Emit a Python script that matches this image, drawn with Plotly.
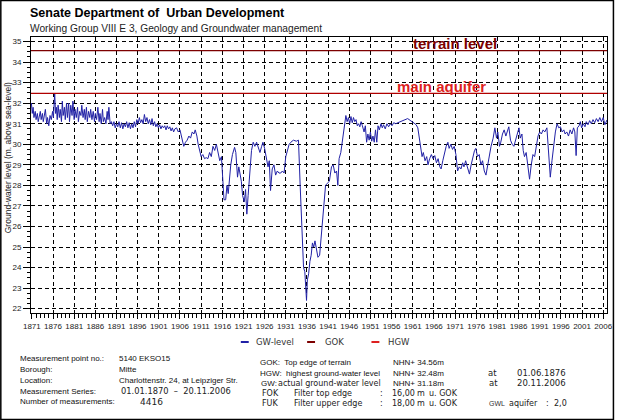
import plotly.graph_objects as go

# ---------------- data ----------------
gw_years = [
    1870.8, 1870.9, 1871.1, 1871.3, 1871.5, 1871.8, 1872.0, 1872.3, 1872.5, 1872.8,
    1873.0, 1873.2, 1873.5, 1873.7, 1874.0, 1874.2, 1874.5, 1874.7, 1875.0, 1875.3,
    1875.6, 1875.9, 1876.1, 1876.4, 1876.6, 1876.8, 1877.0, 1877.2, 1877.5, 1877.7,
    1878.0, 1878.2, 1878.4, 1878.7, 1878.9, 1879.2, 1879.4, 1879.7, 1879.9, 1880.2,
    1880.5, 1880.7, 1881.0, 1881.2, 1881.5, 1881.8, 1882.0, 1882.3, 1882.6, 1882.8,
    1883.1, 1883.4, 1883.6, 1883.9, 1884.1, 1884.4, 1884.7, 1884.9, 1885.2, 1885.5,
    1885.8, 1886.0, 1886.3, 1886.6, 1886.9, 1887.1, 1887.4, 1887.7, 1887.9, 1888.2,
    1888.5, 1888.8, 1889.0, 1889.2, 1889.5, 1889.8, 1890.1, 1890.4, 1890.7, 1891.0,
    1891.3, 1891.6, 1891.9, 1892.2, 1892.5, 1892.8, 1893.1, 1893.4, 1893.7, 1894.0,
    1894.3, 1894.6, 1894.9, 1895.2, 1895.5, 1895.8, 1896.1, 1896.4, 1896.7, 1897.0,
    1897.3, 1897.6, 1897.9, 1898.2, 1898.5, 1898.8, 1899.1, 1899.4, 1899.7, 1900.0,
    1900.3, 1900.6, 1900.9, 1901.2, 1901.5, 1901.8, 1902.1, 1902.4, 1902.7, 1903.0,
    1903.3, 1903.6, 1903.9, 1904.2, 1904.5, 1904.8, 1905.2, 1905.6, 1906.0, 1906.4,
    1906.9, 1907.3, 1907.7, 1908.1, 1908.5, 1908.9, 1909.3, 1909.6, 1910.0, 1910.3,
    1910.7, 1911.0, 1911.4, 1911.8, 1912.2, 1912.6, 1913.0, 1913.4, 1913.8, 1914.2,
    1914.6, 1915.0, 1915.4, 1915.8, 1916.1, 1916.4, 1916.8, 1917.1, 1917.4, 1917.7,
    1918.0, 1918.4, 1918.9, 1919.2, 1919.6, 1919.9, 1920.2, 1920.5, 1920.8, 1921.2,
    1921.5, 1921.8, 1922.1, 1922.5, 1922.9, 1923.3, 1923.7, 1924.1, 1924.5, 1924.9,
    1925.3, 1925.6, 1926.0, 1926.4, 1926.8, 1927.1, 1927.4, 1927.8, 1928.2, 1928.6,
    1929.0, 1929.4, 1929.8, 1930.2, 1930.6, 1931.0, 1931.4, 1931.8, 1932.2, 1932.8,
    1933.5, 1934.0, 1934.4, 1934.9, 1935.2, 1935.5, 1935.9, 1936.1, 1936.4, 1936.7,
    1937.0, 1937.3, 1937.6, 1937.9, 1938.3, 1938.6, 1939.0, 1939.4, 1939.9, 1940.4,
    1940.8, 1941.3, 1941.8, 1942.2, 1942.6, 1943.0, 1943.3, 1943.6, 1944.0, 1944.4,
    1944.8, 1945.2, 1945.5, 1945.8, 1946.1, 1946.4, 1946.7, 1947.0, 1947.3, 1947.6,
    1947.9, 1948.2, 1948.5, 1948.8, 1949.1, 1949.5, 1949.8, 1950.1, 1950.4, 1950.7,
    1951.0, 1951.3, 1951.6, 1951.9, 1952.2, 1952.5, 1952.8, 1953.1, 1953.5, 1953.8,
    1954.1, 1954.5, 1954.9, 1955.3, 1955.7, 1956.1, 1956.5, 1957.0, 1957.5, 1959.8,
    1961.5, 1961.8, 1962.2, 1962.6, 1962.9, 1963.2, 1963.5, 1963.9, 1964.3, 1964.6,
    1965.0, 1965.4, 1965.8, 1966.2, 1966.6, 1967.0, 1967.4, 1967.7, 1968.1, 1968.5,
    1968.9, 1969.3, 1969.6, 1970.0, 1970.4, 1970.8, 1971.2, 1971.6, 1972.0, 1972.4,
    1972.8, 1973.1, 1973.5, 1973.9, 1974.4, 1974.8, 1975.2, 1975.6, 1975.9, 1976.3,
    1976.7, 1977.1, 1977.5, 1977.9, 1978.3, 1978.7, 1979.1, 1979.5, 1980.0, 1980.4,
    1980.8, 1981.1, 1981.5, 1981.8, 1982.2, 1982.6, 1983.0, 1983.3, 1983.7, 1984.1,
    1984.5, 1984.9, 1985.3, 1985.7, 1986.1, 1986.4, 1986.8, 1987.1, 1987.4, 1987.8,
    1988.2, 1988.6, 1989.0, 1989.4, 1989.8, 1990.2, 1990.6, 1991.0, 1991.4, 1991.8,
    1992.2, 1992.7, 1993.1, 1993.5, 1993.9, 1994.3, 1994.7, 1995.1, 1995.5, 1995.9,
    1996.3, 1996.7, 1997.0, 1997.4, 1997.8, 1998.2, 1998.6, 1999.0, 1999.3, 1999.6,
    1999.9, 2000.3, 2000.6, 2000.9, 2001.3, 2001.7, 2002.0, 2002.4, 2002.8, 2003.2,
    2003.6, 2004.0, 2004.4, 2004.8, 2005.2, 2005.6, 2006.0, 2006.4, 2006.89,
]
gw_levels = [
    31.9, 32.0, 31.5, 31.8, 31.3, 31.6, 31.2, 31.5, 31.1, 31.4,
    31.6, 31.2, 31.5, 31.1, 31.4, 31.7, 31.0, 31.3, 30.9, 31.4,
    31.2, 31.6, 31.3, 32.48, 31.5, 31.8, 31.2, 31.9, 31.3, 31.7,
    31.1, 32.1, 31.4, 31.8, 31.2, 32.0, 31.3, 32.0, 31.1, 31.9,
    31.4, 32.1, 31.2, 31.7, 31.3, 31.8, 31.1, 31.6, 31.4, 31.9,
    31.3, 31.7, 31.2, 31.8, 31.1, 31.6, 31.3, 31.7, 31.2, 31.6,
    31.1, 31.5, 31.2, 31.8, 31.1, 31.5, 31.0, 31.7, 31.1, 31.3,
    31.0, 31.6, 31.2, 31.8, 31.0, 31.1, 30.9, 31.1, 30.8, 31.0,
    30.85, 31.1, 30.8, 31.05, 30.75, 31.0, 30.85, 31.1, 30.8, 31.05,
    30.75, 31.0, 30.8, 31.1, 30.85, 31.2, 31.0, 31.3, 31.05, 31.2,
    31.0, 31.45, 31.1, 31.3, 31.0, 31.2, 30.95, 31.25, 30.9, 31.1,
    30.85, 31.0, 30.8, 30.95, 30.75, 30.9, 30.8, 30.9, 30.7, 30.9,
    30.75, 30.85, 30.65, 30.8, 30.6, 30.75, 30.8, 30.6, 30.7, 30.3,
    29.9, 30.1, 30.2, 30.4, 30.3, 30.6, 30.5, 30.7, 30.4, 30.0,
    29.7, 29.4, 29.5, 29.3, 29.35, 29.3, 29.6, 29.4, 29.9, 29.7,
    30.0, 29.6, 29.2, 29.4, 28.5, 27.3, 27.3, 28.0, 27.6, 28.5,
    29.0, 29.5, 29.85, 29.6, 28.4, 28.9, 28.6, 28.2, 27.5, 27.2,
    27.8, 26.6, 27.5, 28.8, 29.7, 30.1, 29.9, 30.1, 29.8, 29.6,
    29.9, 30.1, 29.8, 29.4, 28.9, 29.2, 27.75, 28.8, 29.0, 28.5,
    28.7, 28.6, 28.6, 28.7, 28.6, 29.4, 29.7, 30.0, 30.1, 30.2,
    30.15, 30.2, 28.0, 25.0, 24.0, 23.8, 22.4, 23.4, 23.7, 24.3,
    24.6, 25.2, 25.0, 25.3, 24.9, 24.5, 24.6, 25.5, 27.0, 28.0,
    28.1, 28.2, 28.9, 29.0, 28.6, 28.7, 28.0, 29.3, 29.6, 30.2,
    30.8, 31.4, 31.1, 31.3, 31.0, 31.35, 31.05, 31.3, 31.1, 31.2,
    30.9, 31.0, 30.85, 31.1, 30.9, 30.6, 30.9, 30.1, 30.5, 30.2,
    30.6, 30.15, 30.4, 30.1, 30.7, 30.1, 30.9, 30.7, 31.0, 30.8,
    30.95, 30.75, 31.0, 30.85, 31.0, 30.9, 31.05, 31.0, 31.05, 31.25,
    31.0, 30.95, 30.8, 30.2, 29.8, 29.4, 29.6, 29.2, 29.4, 29.0,
    29.3, 29.5, 29.3, 29.45, 29.1, 29.3, 28.9, 28.8, 29.2, 29.6,
    29.9, 30.1, 29.8, 30.0, 29.75, 29.9, 29.5, 28.7, 28.9, 28.8,
    29.1, 28.9, 29.2, 28.9, 28.55, 29.0, 29.4, 29.7, 29.8, 29.4,
    29.5, 29.0, 29.2, 28.7, 28.5, 29.0, 29.5, 29.9, 30.3, 30.8,
    30.3, 30.6, 29.9, 30.1, 30.5, 30.7, 30.4, 30.6, 30.85, 30.2,
    30.0, 29.9, 30.2, 30.5, 30.8, 30.3, 30.5, 29.7, 29.4, 29.6,
    28.8, 28.3, 29.0, 29.5, 29.4, 30.0, 30.4, 30.6, 30.5, 30.7,
    30.6, 30.8, 29.5, 28.4, 29.2, 30.0, 30.6, 31.0, 30.8, 30.85,
    30.6, 30.7, 30.5, 30.6, 30.4, 30.7, 30.5, 30.8, 30.6, 29.45,
    30.8, 30.9, 31.1, 30.8, 31.0, 30.85, 31.1, 30.95, 31.15, 31.0,
    31.2, 31.05, 31.25, 31.1, 31.3, 31.1, 31.3, 30.95, 31.18,
]
gok_level = 34.56     # terrain level
hgw_level = 32.48     # highest ground-water level (main aquifer)
x_range = [1870.8, 2006.9]
y_range = [21.79, 35.22]
x_tick0, x_dtick = 1871, 5

legend_labels = ["GW-level", "GOK", "HGW"]
info_left = [
    ("Measurement point no.:", "5140 EKSO15"),
    ("Borough:", "Mitte"),
    ("Location:", "Charlottenstr. 24, at Leipziger Str."),
    ("Measurement Series:", "01.01.1870\u00a0 \u2013\u00a0 20.11.2006"),
    ("Number of measurements:", "4416"),
]

BLUE = "#2121a6"
MAROON = "#7d0000"
RED = "#dd2020"

# ---------------- geometry helpers (pixel -> paper) ----------------
W, H = 620, 420
L, R, T, B = 31, 7, 37, 107
PW, PH = W - L - R, H - T - B


def px(x):
    return (x - L) / PW


def py(y):
    return (H - B - y) / PH


fig = go.Figure()
fig.add_trace(go.Scatter(x=gw_years, y=gw_levels, mode="lines",
                         line=dict(color=BLUE, width=1), name="GW-level",
                         showlegend=False, hoverinfo="skip"))
fig.add_trace(go.Scatter(x=x_range, y=[gok_level, gok_level], mode="lines",
                         line=dict(color=MAROON, width=1.3), name="GOK",
                         showlegend=False, hoverinfo="skip"))
fig.add_trace(go.Scatter(x=x_range, y=[hgw_level, hgw_level], mode="lines",
                         line=dict(color="#b00000", width=1.3), name="HGW",
                         showlegend=False, hoverinfo="skip"))

ann = []
shapes = []
SANS = "Liberation Sans"
WIDE = "DejaVu Sans"


def text(x, y, s, size=8, family=SANS, color="#111", anchor="left", bold=False):
    if bold:
        s = "<b>" + s + "</b>"
    ann.append(dict(x=px(x), y=py(y), xref="paper", yref="paper", text=s,
                    showarrow=False, xanchor=anchor, yanchor="middle",
                    font=dict(size=size, family=family, color=color)))


# title
text(28, 13, "Senate Department of\u00a0 Urban Development", size=12.5, bold=True, color="#000")
text(28, 28, "Working Group VIII E 3, Geology and Groundwater management", size=10.2, color="#222")

# line labels (data coordinates)
ann.append(dict(x=1971.0, y=34.88, xref="x", yref="y", text="<b>terrain level</b>",
                showarrow=False, xanchor="center", yanchor="middle",
                font=dict(size=15, family=SANS, color=MAROON)))
ann.append(dict(x=1967.7, y=32.79, xref="x", yref="y", text="<b>main aquifer</b>",
                showarrow=False, xanchor="center", yanchor="middle",
                font=dict(size=15, family=SANS, color=RED)))

# y axis title
ann.append(dict(x=px(8), y=py(158), xref="paper", yref="paper",
                text="Ground-water level (m. above sea-level)", textangle=-90,
                showarrow=False, xanchor="center", yanchor="middle",
                font=dict(size=8.5, family=SANS, color="#222")))

# legend
leg = [(243, 251, 256, BLUE), (310, 318, 326, MAROON), (375, 383, 390, RED)]
for (x0, x1, tx, c), lab in zip(leg, legend_labels):
    shapes.append(dict(type="line", xref="paper", yref="paper", x0=px(x0), x1=px(x1),
                       y0=py(342), y1=py(342), line=dict(color=c, width=2)))
    text(tx, 342, lab, size=8.5, family=WIDE, color="#333")

# left info block
rows_l = [358, 369, 380, 391, 402]
for i, ((lab, val), yy) in enumerate(zip(info_left, rows_l)):
    text(18, yy, lab, size=8)
    if i == 3:
        text(120, yy, val, size=8.3, family=WIDE, color="#222")
    elif i == 4:
        text(139, yy, val, size=9, family=WIDE, color="#222")
    else:
        text(118, yy, val, size=8)

# right info block
rows_r = [362, 373, 383, 393, 403]
text(260, rows_r[0], "GOK:\u00a0 Top edge of terrain", size=8)
text(395, rows_r[0], "NHN+ 34.56m", size=8)
text(260, rows_r[1], "HGW:\u00a0 highest ground-water level", size=8)
text(395, rows_r[1], "NHN+ 32.48m", size=8)
text(491, rows_r[1], "at", size=8.5, family=WIDE, color="#222")
text(520, rows_r[1], "01.06.1876", size=8.5, family=WIDE, color="#222")
text(261, rows_r[2], "GW:", size=8)
text(279, rows_r[2], "actual ground-water level", size=8, family=WIDE, color="#222")
text(395, rows_r[2], "NHN+ 31.18m", size=8)
text(492, rows_r[2], "at", size=8.5, family=WIDE, color="#222")
text(520, rows_r[2], "20.11.2006", size=8.5, family=WIDE, color="#222")
for yy, a, b, v in [(rows_r[3], "FOK", "Filter top edge", "16,00"),
                    (rows_r[4], "FUK", "Filter upper edge", "18,00")]:
    text(262, yy, a, size=8, family=WIDE, color="#222")
    text(295, yy, b, size=8, family=WIDE, color="#222")
    text(382, yy, ":", size=8, family=WIDE, color="#222")
    text(394, yy, v, size=8, family=WIDE, color="#222")
    text(419, yy, "m", size=8, family=WIDE, color="#222")
    text(431, yy, "u. GOK", size=8, family=WIDE, color="#222")
text(492, rows_r[4], "GWL", size=7, family=SANS, color="#333")
text(512, rows_r[4], "aquifer", size=8, family=WIDE, color="#222")
text(549, rows_r[4], ":", size=8, family=WIDE, color="#222")
text(557, rows_r[4], "2,0", size=8, family=WIDE, color="#222")

# outer border
shapes.append(dict(type="rect", xref="paper", yref="paper", x0=px(0.5), x1=px(619.5),
                   y0=py(419.5), y1=py(0.5), line=dict(color="#000", width=1.5)))

tickfont = dict(size=8, family=SANS, color="#222")
fig.update_layout(
    width=W, height=H, margin=dict(l=L, r=R, t=T, b=B),
    paper_bgcolor="white", plot_bgcolor="white",
    annotations=ann, shapes=shapes, showlegend=False,
    xaxis=dict(range=x_range, tick0=x_tick0, dtick=x_dtick, ticks="outside", ticklen=5,
               tickcolor="#000", showline=True, linecolor="#000", linewidth=1, mirror=True,
               showgrid=True, gridcolor="#000", griddash="4px,3px", gridwidth=1,
               zeroline=False, tickfont=tickfont,
               minor=dict(dtick=1, tick0=x_tick0, ticks="outside", ticklen=4, tickcolor="#000",
                          showgrid=False)),
    yaxis=dict(range=y_range, tick0=22, dtick=1, ticks="outside", ticklen=7,
               tickcolor="#000", showline=True, linecolor="#000", linewidth=1, mirror=True,
               showgrid=True, gridcolor="#000", griddash="4px,3px", gridwidth=1,
               zeroline=False, tickfont=tickfont,
               minor=dict(dtick=0.25, ticks="outside", ticklen=3, tickcolor="#000",
                          showgrid=False)),
)

fig.write_html("out.html")
